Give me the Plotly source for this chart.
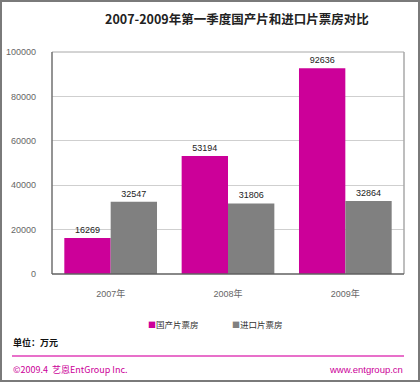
import plotly.graph_objects as go

categories = ["2007年", "2008年", "2009年"]
domestic = [16269, 53194, 92636]
imported = [32547, 31806, 32864]
series_names = ["国产片票房", "进口片票房"]
y_ticks = [0, 20000, 40000, 60000, 80000, 100000]

W, H = 420, 382
L, R, T, B = 52, 16, 52, 108
pw, ph = W - L - R, H - T - B

def px(x):
    return (x - L) / pw

def py(y):
    return (H - B - y) / ph

font_num = "Liberation Sans, Arial, sans-serif"
font_cjk = "Noto Sans CJK SC, sans-serif"
colors = ["#CC0099", "#808080"]

fig = go.Figure()
for name, vals, col in zip(series_names, [domestic, imported], colors):
    fig.add_trace(go.Bar(x=categories, y=vals, name=name,
                         marker=dict(color=col, line=dict(width=0)),
                         text=[str(v) for v in vals], textposition="outside",
                         textfont=dict(size=9, color="#222", family=font_num),
                         cliponaxis=False, showlegend=False))

shapes = [
    dict(type="rect", xref="paper", yref="paper", x0=px(1), x1=px(W - 1), y0=py(H - 1), y1=py(1),
         line=dict(color="#7a7a7a", width=2), fillcolor="rgba(0,0,0,0)", layer="below"),
    dict(type="line", xref="paper", yref="paper", x0=0, x1=1, y0=1, y1=1, line=dict(color="#a8a8a8", width=1)),
    dict(type="line", xref="paper", yref="paper", x0=1, x1=1, y0=0, y1=1, line=dict(color="#a8a8a8", width=1.5)),
    dict(type="line", xref="paper", yref="paper", x0=0, x1=0, y0=0, y1=1, line=dict(color="#707070", width=1.5)),
    dict(type="line", xref="paper", yref="paper", x0=0, x1=1, y0=0, y1=0, line=dict(color="#606060", width=1.5)),
    dict(type="line", xref="paper", yref="paper", x0=px(12), x1=px(404), y0=py(356), y1=py(356),
         line=dict(color="#E040B8", width=1.5)),
]

annotations = [
    dict(text="<b>2007-2009年第一季度国产片和进口片票房对比</b>", xref="paper", yref="paper",
         x=px(237), y=py(18), xanchor="center", yanchor="middle", showarrow=False,
         font=dict(size=12.5, color="#222", family=font_cjk)),
    dict(text="<b>单位：万元</b>", xref="paper", yref="paper", x=px(11), y=py(342),
         xanchor="left", yanchor="middle", showarrow=False,
         font=dict(size=9, color="#111", family=font_cjk)),
    dict(text="©2009.4  艺恩EntGroup Inc.", xref="paper", yref="paper", x=px(11), y=py(369),
         xanchor="left", yanchor="middle", showarrow=False,
         font=dict(size=9, color="#CC0099", family=font_cjk)),
    dict(text="www.entgroup.cn", xref="paper", yref="paper", x=px(405), y=py(369),
         xanchor="right", yanchor="middle", showarrow=False,
         font=dict(size=9.5, color="#CC0099", family=font_num)),
]
for name, col, x0 in zip(series_names, colors, [146, 230]):
    annotations.append(dict(
        text=f'<span style="color:{col};font-size:8px">■</span>{name}',
        xref="paper", yref="paper", x=px(x0), y=py(324), xanchor="left", yanchor="middle",
        showarrow=False, font=dict(size=8.5, color="#333", family=font_cjk)))

fig.update_layout(
    width=W, height=H,
    margin=dict(l=L, r=R, t=T, b=B, pad=0, autoexpand=False),
    paper_bgcolor="white", plot_bgcolor="white",
    barmode="group", bargap=0.21, bargroupgap=0,
    showlegend=False,
    xaxis=dict(showgrid=False, showline=False, ticks="", zeroline=False, automargin=False,
               tickfont=dict(size=9, color="#666", family=font_num + ", " + font_cjk),
               ticklabelstandoff=13),
    yaxis=dict(range=[0, 100000], tickvals=y_ticks, ticktext=[str(v) for v in y_ticks],
               showgrid=True, gridcolor="#cfcfcf", gridwidth=1, zeroline=False, showline=False,
               automargin=False, ticks="", tickfont=dict(size=9, color="#666", family=font_num),
               ticklabelstandoff=15),
    shapes=shapes, annotations=annotations,
)

fig.write_html("out.html", config={"displayModeBar": False},
               post_script="document.body.style.margin='0';document.body.style.overflow='hidden';")
